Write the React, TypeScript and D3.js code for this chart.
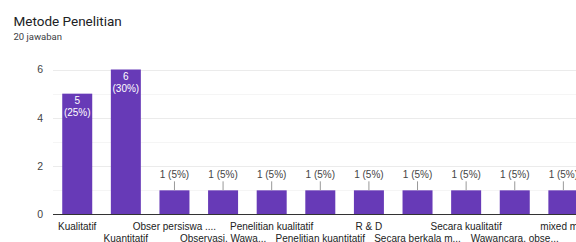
import React from "react";
import * as d3 from "d3";

const categories = [
  "Kualitatif",
  "Kuantitatif",
  "Obser persiswa ....",
  "Observasi, Wawa...",
  "Penelitian kualitatif",
  "Penelitian kuantitatif",
  "R & D",
  "Secara berkala m...",
  "Secara kualitatif",
  "Wawancara, obse...",
  "mixed m...",
];
const counts = [5, 6, 1, 1, 1, 1, 1, 1, 1, 1, 1];
const percents = ["25%", "30%", "5%", "5%", "5%", "5%", "5%", "5%", "5%", "5%", "5%"];
const yTicks = [0, 2, 4, 6];
const yGrid = [1, 2, 3, 4, 5, 6];

const W = 576;
const H = 242;
const FONT = "'Liberation Sans', Arial, sans-serif";

const App = () => {
  const svgRef = React.useRef<SVGSVGElement>(null);

  React.useEffect(() => {
    const svg = d3.select(svgRef.current);
    svg.selectAll("*").remove();

    const left = 53;
    const step = 48.6;
    const x = d3
      .scaleBand()
      .domain(categories)
      .range([left, left + step * categories.length])
      .paddingInner(0.383)
      .paddingOuter(0.19);
    const y = d3.scaleLinear().domain([0, 6]).range([214.5, 69.5]);

    // titel
    svg
      .append("text")
      .attr("x", 13.5)
      .attr("y", 26)
      .attr("font-family", "Roboto, sans-serif")
      .attr("font-size", 13.5)
      .attr("fill", "#202124")
      .text("Metode Penelitian");
    svg
      .append("text")
      .attr("x", 13.5)
      .attr("y", 40)
      .attr("font-family", "Roboto, sans-serif")
      .attr("font-size", 9.5)
      .attr("fill", "#3c4043")
      .text("20 jawaban");

    // grid
    svg
      .append("g")
      .selectAll("line")
      .data(yGrid)
      .join("line")
      .attr("x1", left)
      .attr("x2", W)
      .attr("y1", (d) => Math.round(y(d)) + 0.5)
      .attr("y2", (d) => Math.round(y(d)) + 0.5)
      .attr("stroke", (d) => (d % 2 === 0 ? "#ebebeb" : "#f5f5f5"));

    const yAxis = d3
      .axisLeft(y)
      .tickValues(yTicks)
      .tickSize(0)
      .tickPadding(10)
      .tickFormat(d3.format("d"));
    const yg = svg.append("g").attr("transform", `translate(${left},0)`).call(yAxis);
    yg.select(".domain").remove();
    yg.selectAll("text")
      .attr("font-family", FONT)
      .attr("font-size", 10.5)
      .attr("fill", "#444");

    // balken
    svg
      .append("g")
      .selectAll("rect")
      .data(counts)
      .join("rect")
      .attr("x", (_, i) => x(categories[i])!)
      .attr("y", (d) => y(d))
      .attr("width", x.bandwidth())
      .attr("height", (d) => y(0) - y(d))
      .attr("fill", "#673ab7");

    // baseline
    svg
      .append("line")
      .attr("x1", left)
      .attr("x2", W)
      .attr("y1", y(0))
      .attr("y2", y(0))
      .attr("stroke", "#333")
      .attr("stroke-width", 1);

    // labels
    const lab = svg.append("g").attr("font-family", FONT).attr("font-size", 10);
    counts.forEach((c, i) => {
      const cx = x(categories[i])! + x.bandwidth() / 2;
      if (c > 1) {
        lab
          .append("text")
          .attr("x", cx)
          .attr("y", y(c) + 10.5)
          .attr("text-anchor", "middle")
          .attr("fill", "#fff")
          .text(String(c));
        lab
          .append("text")
          .attr("x", cx)
          .attr("y", y(c) + 22.5)
          .attr("text-anchor", "middle")
          .attr("fill", "#fff")
          .text(`(${percents[i]})`);
      } else {
        lab
          .append("line")
          .attr("x1", cx)
          .attr("x2", cx)
          .attr("y1", y(c) - 9)
          .attr("y2", y(c))
          .attr("stroke", "#999");
        lab
          .append("text")
          .attr("x", cx)
          .attr("y", y(c) - 12)
          .attr("text-anchor", "middle")
          .attr("fill", "#444")
          .text(`${c} (${percents[i]})`);
      }
    });

    // x labels, abwechselnd zwei reihen
    svg
      .append("g")
      .selectAll("text")
      .data(categories)
      .join("text")
      .attr("x", (d) => x(d)! + x.bandwidth() / 2)
      .attr("y", (_, i) => (i % 2 === 0 ? 230 : 241.5))
      .attr("text-anchor", "middle")
      .attr("font-family", FONT)
      .attr("font-size", 10)
      .attr("fill", "#222")
      .text((d) => d);
  }, []);

  return (
    <div style={{ position: "absolute", left: 0, top: 0 }}>
      <svg ref={svgRef} width={W} height={H} style={{ display: "block", background: "#fff" }} />
    </div>
  );
};

export default App;
